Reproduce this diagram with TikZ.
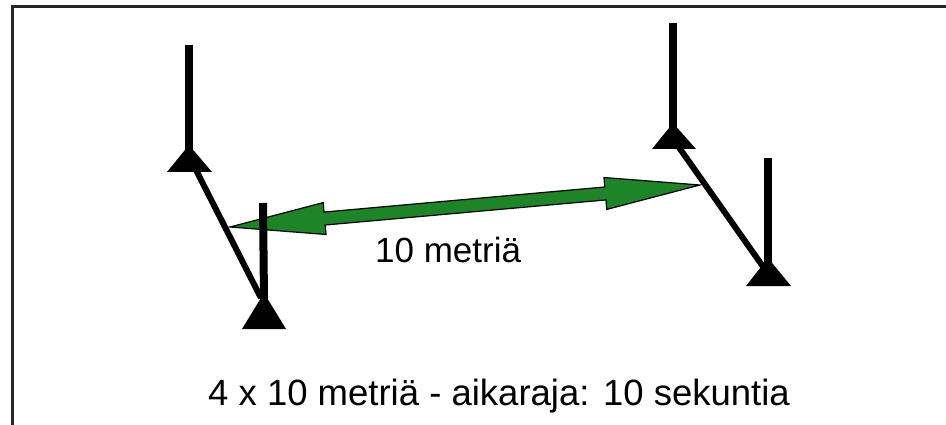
\documentclass[tikz,border=0pt]{standalone}
\usepackage{fontspec}
\setmainfont{Liberation Sans}
\usetikzlibrary{calc}
\definecolor{arrowgreen}{RGB}{30,132,40}
\begin{document}
\begin{tikzpicture}[x=1pt,y=-1pt,
  pole/.style={line width=8pt,draw=black},
  diag/.style={line width=6pt,draw=black},
  conebase/.style={fill=black},
  framestyle/.style={line width=3pt,draw=black!85},
  arrowbody/.style={fill=arrowgreen,draw=black,line width=1.2pt,line join=miter},
  lbl/.style={font=\fontsize{35}{40}\selectfont,inner sep=0pt,anchor=base west},
  caplbl/.style={font=\fontsize{36.5}{42}\selectfont,inner sep=0pt,anchor=base west}]
\useasboundingbox (0,0) rectangle (946,425);
\fill[white] (0,0) rectangle (946,425);
\draw[framestyle] (12,425) -- (12,7) -- (946,7);

% arrow
\coordinate (L) at (230,227);
\coordinate (R) at (700,185);
\coordinate (HL) at ($(L)!95pt!(R)$);
\coordinate (HR) at ($(R)!95pt!(L)$);
\filldraw[arrowbody]
  (L) -- ($(HL)!16pt!90:(R)$) -- ($(HL)!6.5pt!90:(R)$) -- ($(HR)!6.5pt!-90:(L)$)
  -- ($(HR)!16pt!-90:(L)$) -- (R) -- ($(HR)!16pt!90:(L)$) -- ($(HR)!6.5pt!90:(L)$)
  -- ($(HL)!6.5pt!-90:(R)$) -- ($(HL)!16pt!-90:(R)$) -- cycle;

% cones
\coordinate (c1top) at (189,45);  \coordinate (c1apex) at (189,145);
\coordinate (c2top) at (263,203); \coordinate (c2apex) at (264,293);
\coordinate (c3top) at (673,23);  \coordinate (c3apex) at (673,123);
\coordinate (c4top) at (768,158); \coordinate (c4apex) at (768,258);

\draw[diag] (195,168) -- (261,298);
\draw[diag] (678,146) -- (764,268);

\draw[pole] (c1top) -- ($(c1apex)+(0,6)$);
\fill[conebase] (c1apex) -- (212,172) -- (167,172) -- cycle;
\draw[pole] (c2top) -- ($(c2apex)+(0,6)$);
\fill[conebase] (c2apex) -- (286,329) -- (242,329) -- cycle;
\draw[pole] (c3top) -- ($(c3apex)+(0,6)$);
\fill[conebase] (c3apex) -- (696,149) -- (652,149) -- cycle;
\draw[pole] (c4top) -- ($(c4apex)+(0,6)$);
\fill[conebase] (c4apex) -- (791,286) -- (746,286) -- cycle;

\node[lbl] (dist) at (375,262) {10 metriä};
\node[caplbl] (caption) at (208,405) {4 x 10 metriä - aikaraja: 10 sekuntia};
\end{tikzpicture}
\end{document}
